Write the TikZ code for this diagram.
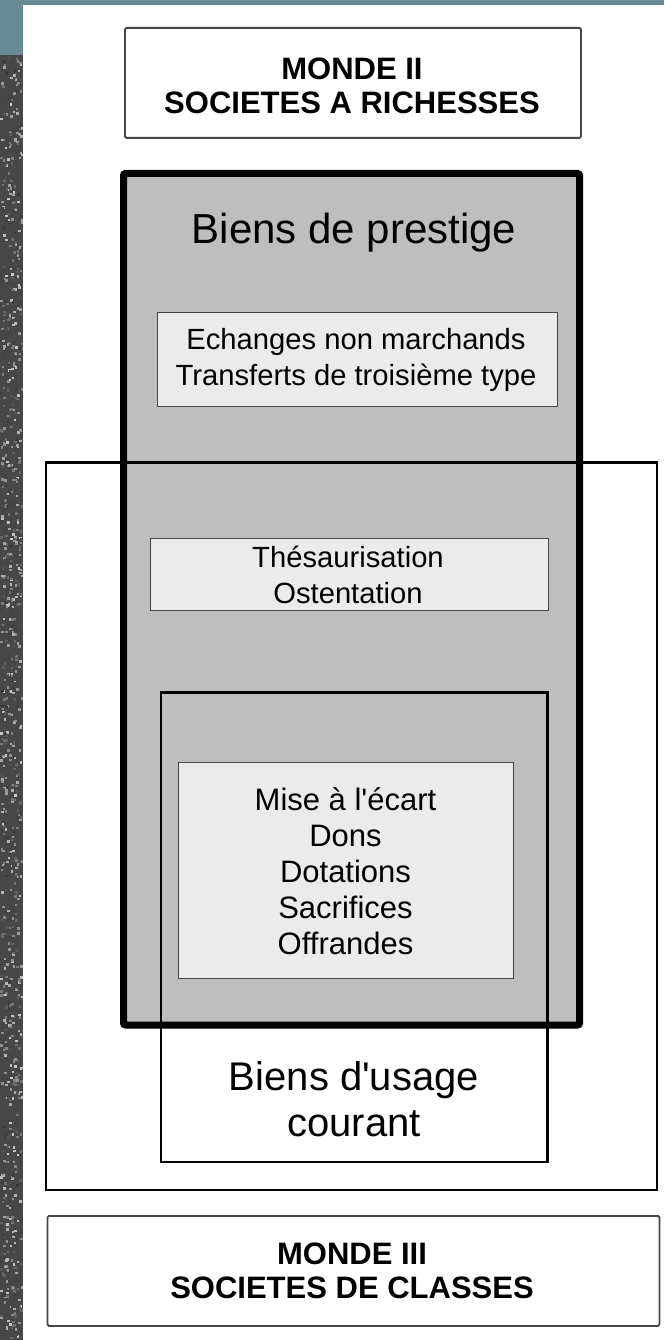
\documentclass[tikz,border=0pt]{standalone}
\usepackage{fontspec}
\newfontfamily\helv{Liberation Sans}
\definecolor{teal}{RGB}{105,139,149}
\definecolor{prestige}{RGB}{190,190,190}
\definecolor{lightbox}{RGB}{235,235,235}
\definecolor{thinborder}{RGB}{70,70,70}
\begin{document}
\begin{tikzpicture}[x=1pt,y=-1pt,
  monde/.style={draw=thinborder,line width=1.8pt,rounded corners=1.5pt,fill=white},
  inner/.style={draw=thinborder,line width=1.3pt,fill=lightbox},
  bigtxt/.style={font=\helv\fontsize{40}{46}\selectfont,align=center},
  boldtxt/.style={font=\helv\fontsize{31}{34}\selectfont\bfseries,align=center},
  smalltxt/.style={font=\helv\fontsize{29.2}{35.5}\selectfont,align=center}]
\useasboundingbox (0,0) rectangle (664,1340);
\fill[white] (0,0) rectangle (664,1340);
% textured strip
\fill[black!72] (0,55) rectangle (23,1340);
\pgfmathsetseed{7}
\foreach \i in {1,...,900}{
  \pgfmathsetmacro{\xx}{rnd*21}
  \pgfmathsetmacro{\yy}{55+rnd*1283}
  \pgfmathsetmacro{\gg}{20+rnd*60}
  \fill[black!\gg] (\xx,\yy) rectangle ++(2.5,2.5);
}
\fill[teal] (0,0) rectangle (664,5);
\fill[teal] (0,0) rectangle (23,55);
% MONDE II
\node[monde,minimum width=456pt,minimum height=110pt,anchor=north west] (m2) at (124,27) {};
\node[boldtxt] (m2t) at (352,86) {MONDE II\\SOCIETES A RICHESSES};
% prestige fill
\fill[prestige] (123.5,173.5) rectangle (579.5,1025);
% outer thin box
\draw[line width=2.5pt] (46,462.5) rectangle (657,1190);
% usage box
\draw[line width=2.6pt] (161,692.5) rectangle (547.5,1162);
% prestige thick border
\draw[line width=7pt,rounded corners=2pt] (123.5,173.5) rectangle (579.5,1025);
\node[bigtxt,font=\helv\fontsize{42}{46}\selectfont] (bp) at (354,233) {Biens de prestige};
% inner boxes
\node[inner,minimum width=400pt,minimum height=94pt,anchor=north west] (ech) at (157,312) {};
\node[smalltxt] (echt) at (356,360) {Echanges non marchands\\Transferts de troisième type};
\node[inner,minimum width=398pt,minimum height=72pt,anchor=north west] (thes) at (150,538) {};
\node[smalltxt] (thest) at (348,575) {Thésaurisation\\Ostentation};
\node[inner,minimum width=335pt,minimum height=216.5pt,anchor=north west] (mise) at (178,761.5) {};
\node[smalltxt,font=\helv\fontsize{31}{36}\selectfont] (miset) at (345.5,871) {Mise à l'écart\\Dons\\Dotations\\Sacrifices\\Offrandes};
\node[bigtxt] (usage) at (354,1099) {Biens d'usage\\courant};
% MONDE III
\node[monde,minimum width=612pt,minimum height=110pt,anchor=north west] (m3) at (46.5,1215) {};
\node[boldtxt] (m3t) at (352,1271) {MONDE III\\SOCIETES DE CLASSES};
\end{tikzpicture}
\end{document}
